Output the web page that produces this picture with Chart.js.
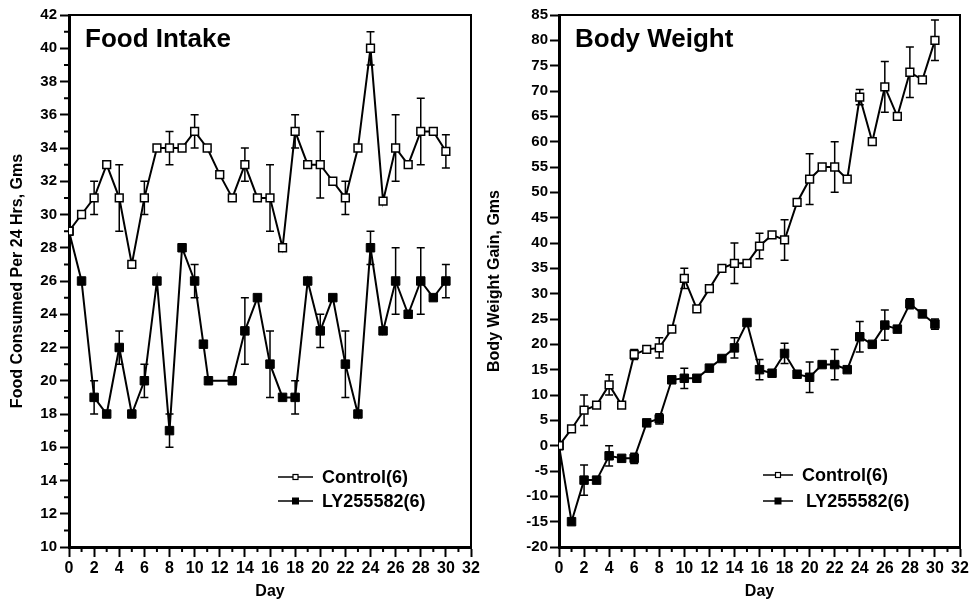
<!DOCTYPE html>
<html lang="en">
<head>
<meta charset="UTF-8">
<title>Food Intake / Body Weight</title>
<script src="https://cdn.jsdelivr.net/npm/chart.js"></script>
<style>
  body { margin: 0; background: #fff; }
  .painel { position: absolute; top: 0; width: 487px; height: 607px; }
  #painelA { left: 0; }
  #painelB { left: 487px; }
</style>
</head>
<body>
<div class="painel" id="painelA"><canvas id="graficoA" width="487" height="607"></canvas></div>
<div class="painel" id="painelB"><canvas id="graficoB" width="487" height="607"></canvas></div>

<script>
// dias do estudo
const dias = [0, 1, 2, 3, 4, 5, 6, 7, 8, 9, 10, 11, 12, 13, 14, 15, 16, 17, 18, 19, 20, 21, 22, 23, 24, 25, 26, 27, 28, 29, 30];
const diasLYComida = [0, 1, 2, 3, 4, 5, 6, 7, 8, 9, 10, 10.7, 11.1, 13, 14, 15, 16, 17, 18, 19, 20, 21, 22, 23, 24, 25, 26, 27, 28, 29, 30];

// Food Intake (Gms / 24 h)
const comidaControle = [29, 30, 31, 33, 31, 27, 31, 34, 34, 34, 35, 34, 32.4, 31, 33, 31, 31, 28, 35, 33, 33, 32, 31, 34, 40, 30.8, 34, 33, 35, 35, 33.8];
const comidaControleErro = [0, 0, 1, 0, 2, 0, 1, 0, 1, 0, 1, 0, 0, 0, 1, 0, 2, 0, 1, 0, 2, 0, 1, 0, 1, 0, 2, 0, 2, 0, 1];
const comidaLY = [29, 26, 19, 18, 22, 18, 20, 26, 17, 28, 26, 22.2, 20, 20, 23, 25, 21, 19, 19, 26, 23, 25, 21, 18, 28, 23, 26, 24, 26, 25, 26];
const comidaLYErro = [0, 0, 1, 0, 1, 0, 1, 0, 1, 0, 1, 0, 0, 0, 2, 0, 2, 0, 1, 0, 1, 0, 2, 0, 1, 0, 2, 0, 2, 0, 1];

// Body Weight Gain (Gms)
const pesoControle = [0, 3.3, 7, 8, 12, 8, 18, 19, 19.3, 23, 33, 27, 31, 35, 36, 36, 39.4, 41.6, 40.6, 48, 52.6, 55, 55, 52.6, 68.8, 60, 70.8, 65, 73.7, 72.2, 80];
const pesoControleErro = [0, 0, 3, 0, 2, 0, 1, 0, 2, 0, 2, 0, 0, 0, 4, 0, 2.5, 0, 4, 0, 5, 0, 5, 0, 1.5, 0, 5, 0, 5, 0, 4];
const pesoLY = [0, -15, -6.8, -6.8, -2, -2.5, -2.5, 4.5, 5.3, 13, 13.3, 13.3, 15.3, 17.2, 19.3, 24.3, 15, 14.3, 18.2, 14.1, 13.5, 16, 16, 15, 21.5, 20, 23.8, 23, 28, 26, 24];
const pesoLYErro = [0, 0, 3, 0, 2, 0, 1, 0, 1, 0, 2, 0, 0, 0, 2, 0, 2, 0, 2, 0, 3, 0, 3, 0, 3, 0, 3, 0, 1, 0, 1];

// rótulos dos eixos
const ticksX = [0, 2, 4, 6, 8, 10, 12, 14, 16, 18, 20, 22, 24, 26, 28, 30, 32];
const ticksXMenor = [1, 3, 5, 7, 9, 11, 13, 15, 17, 19, 21, 23, 25, 27, 29, 31];
const ticksComida = [10, 12, 14, 16, 18, 20, 22, 24, 26, 28, 30, 32, 34, 36, 38, 40, 42];
const ticksComidaMenor = [11, 13, 15, 17, 19, 21, 23, 25, 27, 29, 31, 33, 35, 37, 39, 41];
const ticksPeso = [-20, -15, -10, -5, 0, 5, 10, 15, 20, 25, 30, 35, 40, 45, 50, 55, 60, 65, 70, 75, 80, 85];

const FONTE = '"Liberation Sans", Arial, Helvetica, sans-serif';

function pares(xs, ys) {
    return xs.map((x, i) => ({ x: x, y: ys[i] }));
}

// barras de erro, moldura, ticks menores, título e legenda
const extras = {
    id: 'extras',
    beforeDatasetsDraw(chart) {
        const ctx = chart.ctx;
        const ys = chart.scales.y;
        ctx.save();
        ctx.strokeStyle = '#000';
        ctx.lineWidth = 1.5;
        chart.data.datasets.forEach((ds, i) => {
            if (!ds.erros) return;
            const meta = chart.getDatasetMeta(i);
            ds.data.forEach((p, j) => {
                const e = ds.erros[j];
                if (!e) return;
                const x = meta.data[j].x;
                const yTop = ys.getPixelForValue(p.y + e);
                const yBot = ys.getPixelForValue(p.y - e);
                ctx.beginPath();
                ctx.moveTo(x, yTop); ctx.lineTo(x, yBot);
                ctx.moveTo(x - 4, yTop); ctx.lineTo(x + 4, yTop);
                ctx.moveTo(x - 4, yBot); ctx.lineTo(x + 4, yBot);
                ctx.stroke();
            });
        });
        ctx.restore();
    },
    afterDraw(chart, args, opts) {
        const ctx = chart.ctx;
        const a = chart.chartArea;
        const xs = chart.scales.x;
        const ys = chart.scales.y;
        ctx.save();
        ctx.strokeStyle = '#000';

        // moldura superior e direita
        ctx.lineWidth = 2;
        ctx.beginPath();
        ctx.moveTo(a.left, a.top); ctx.lineTo(a.right, a.top); ctx.lineTo(a.right, a.bottom);
        ctx.stroke();

        // ticks menores
        ctx.lineWidth = 2;
        ctx.beginPath();
        (opts.menorX || []).forEach(v => {
            const px = xs.getPixelForValue(v);
            ctx.moveTo(px, a.bottom); ctx.lineTo(px, a.bottom + 5);
        });
        (opts.menorY || []).forEach(v => {
            const py = ys.getPixelForValue(v);
            ctx.moveTo(a.left - 5, py); ctx.lineTo(a.left, py);
        });
        ctx.stroke();

        // título interno
        ctx.fillStyle = '#000';
        ctx.font = 'bold 26px ' + FONTE;
        ctx.textBaseline = 'middle';
        ctx.textAlign = 'left';
        ctx.fillText(opts.titulo, a.left + 16, a.top + 25);

        // legenda
        const lx = a.left + opts.legX;
        ctx.font = 'bold 18px ' + FONTE;
        opts.legenda.forEach((item, k) => {
            const ly = opts.legY[k];
            ctx.lineWidth = 1.5;
            ctx.beginPath();
            ctx.moveTo(lx, ly); ctx.lineTo(lx + opts.legW, ly);
            ctx.stroke();
            const cx = lx + opts.legW / 2;
            if (item.cheio) {
                ctx.fillStyle = '#000';
                ctx.fillRect(cx - 3.5, ly - 3.5, 7, 7);
            } else {
                ctx.fillStyle = '#fff';
                ctx.fillRect(cx - 2.5, ly - 2.5, 5, 5);
                ctx.lineWidth = 1.2;
                ctx.strokeRect(cx - 2.5, ly - 2.5, 5, 5);
            }
            ctx.fillStyle = '#000';
            ctx.fillText(item.texto, lx + opts.legW + 9 + (item.recuo || 0), ly + 1);
        });
        ctx.restore();
    }
};

function criarGrafico(idCanvas, cfg) {
    const config = {
        type: 'line',
        data: {
            datasets: [{
                label: 'Control(6)',
                data: cfg.controle,
                erros: cfg.controleErro,
                borderColor: '#000',
                borderWidth: 2,
                pointStyle: 'rect',
                pointRadius: 5.5,
                pointBackgroundColor: '#fff',
                pointBorderColor: '#000',
                pointBorderWidth: 1.5,
                tension: 0
            }, {
                label: 'LY255582(6)',
                data: cfg.ly,
                erros: cfg.lyErro,
                borderColor: '#000',
                borderWidth: 2,
                pointStyle: 'rect',
                pointRadius: 6,
                pointBackgroundColor: '#000',
                pointBorderColor: '#000',
                pointBorderWidth: 1,
                tension: 0
            }]
        },
        options: {
            responsive: false,
            animation: false,
            layout: { padding: { top: 15, right: cfg.padDir, left: 0, bottom: 0 } },
            plugins: {
                legend: { display: false },
                tooltip: { enabled: false },
                extras: cfg.extras
            },
            scales: {
                x: {
                    type: 'linear',
                    min: 0,
                    max: 32,
                    afterBuildTicks: s => { s.ticks = ticksX.map(v => ({ value: v })); },
                    afterFit: s => { s.height = 60; },
                    grid: { drawOnChartArea: false, drawTicks: true, tickLength: 10, tickWidth: 2, tickColor: '#000' },
                    border: { display: true, color: '#000', width: 3 },
                    ticks: { color: '#000', padding: 2, maxRotation: 0, autoSkip: false, font: { family: FONTE, size: 16, weight: 'bold' } },
                    title: { display: true, text: 'Day', color: '#000', padding: { top: 0, bottom: 7 }, font: { family: FONTE, size: 16, weight: 'bold', lineHeight: 1 } }
                },
                y: {
                    type: 'linear',
                    min: cfg.yMin,
                    max: cfg.yMax,
                    afterBuildTicks: s => { s.ticks = cfg.ticksY.map(v => ({ value: v })); },
                    afterFit: s => { s.width = cfg.larguraY; },
                    grid: { drawOnChartArea: false, drawTicks: true, tickLength: 9, tickWidth: 2, tickColor: '#000' },
                    border: { display: true, color: '#000', width: 3 },
                    ticks: { color: '#000', padding: cfg.padTickY, autoSkip: false, font: { family: FONTE, size: 15, weight: 'bold' } },
                    title: { display: true, text: cfg.tituloY, color: '#000', padding: { top: cfg.padTituloY, bottom: 0 }, font: { family: FONTE, size: 16, weight: 'bold', lineHeight: 1 } }
                }
            }
        },
        plugins: [extras]
    };
    return new Chart(document.getElementById(idCanvas), config);
}

criarGrafico('graficoA', {
    controle: pares(dias, comidaControle),
    controleErro: comidaControleErro,
    ly: pares(diasLYComida, comidaLY),
    lyErro: comidaLYErro,
    yMin: 10, yMax: 42,
    ticksY: ticksComida,
    larguraY: 69,
    padDir: 16,
    padTickY: 3,
    padTituloY: 10,
    tituloY: 'Food Consumed Per 24 Hrs, Gms',
    extras: {
        titulo: 'Food Intake',
        menorX: ticksXMenor,
        menorY: ticksComidaMenor,
        legX: 209, legW: 35, legY: [477, 501],
        legenda: [{ texto: 'Control(6)', cheio: false }, { texto: 'LY255582(6)', cheio: true }]
    }
});

criarGrafico('graficoB', {
    controle: pares(dias, pesoControle),
    controleErro: pesoControleErro,
    ly: pares(dias, pesoLY),
    lyErro: pesoLYErro,
    yMin: -20, yMax: 85,
    ticksY: ticksPeso,
    larguraY: 72,
    padDir: 14,
    padTickY: 2,
    padTituloY: 0,
    tituloY: 'Body Weight Gain, Gms',
    extras: {
        titulo: 'Body Weight',
        menorX: ticksXMenor,
        menorY: [],
        legX: 204, legW: 30, legY: [475, 501],
        legenda: [{ texto: 'Control(6)', cheio: false }, { texto: 'LY255582(6)', cheio: true, recuo: 4 }]
    }
});
</script>
</body>
</html>
